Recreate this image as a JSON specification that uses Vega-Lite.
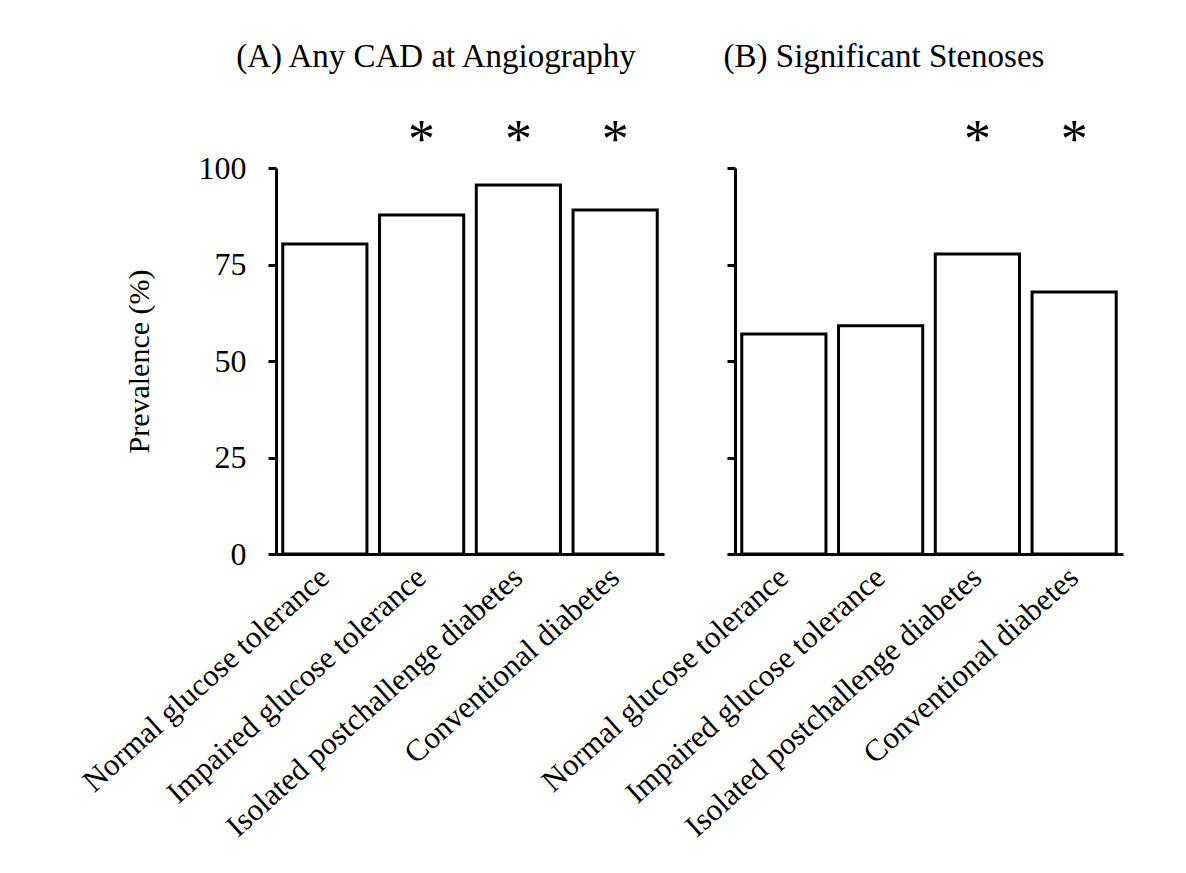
{
  "$schema": "https://vega.github.io/schema/vega-lite/v6.json",
  "background": "white",
  "padding": {"left": 76, "top": 40, "right": 20, "bottom": 20},
  "bounds": "flush",
  "spacing": 71,
  "config": {
    "font": "Liberation Serif",
    "view": {"stroke": null},
    "axis": {
      "domainColor": "black", "domainWidth": 3, "tickColor": "black", "tickWidth": 3, "tickSize": 8,
      "labelFont": "Liberation Serif", "labelFontSize": 31, "labelColor": "black", "labelLimit": 0,
      "titleFont": "Liberation Serif", "titleFontSize": 30, "titleFontWeight": "normal", "titleColor": "black",
      "grid": false
    },
    "title": {"font": "Liberation Serif", "fontSize": 33, "fontWeight": "normal", "color": "black"}
  },
  "datasets": {
    "cad": [
      {"group": "Normal glucose tolerance", "prevalence": 80.3, "marker": ""},
      {"group": "Impaired glucose tolerance", "prevalence": 87.8, "marker": "*"},
      {"group": "Isolated postchallenge diabetes", "prevalence": 95.6, "marker": "*"},
      {"group": "Conventional diabetes", "prevalence": 89.1, "marker": "*"}
    ],
    "sten": [
      {"group": "Normal glucose tolerance", "prevalence": 57.0, "marker": ""},
      {"group": "Impaired glucose tolerance", "prevalence": 59.1, "marker": ""},
      {"group": "Isolated postchallenge diabetes", "prevalence": 77.7, "marker": "*"},
      {"group": "Conventional diabetes", "prevalence": 67.9, "marker": "*"}
    ]
  },
  "hconcat": [
    {
      "width": 388, "height": 386,
      "title": {"text": "(A) Any CAD at Angiography", "dx": -34, "offset": 40},
      "data": {"name": "cad"},
      "encoding": {
        "x": {"field": "group", "type": "nominal", "sort": null,
              "scale": {"paddingInner": 0.13, "paddingOuter": 0.07},
              "axis": {"title": null, "labelAngle": -42, "labelAlign": "right", "labelBaseline": "middle", "ticks": false, "labelPadding": 19}}
      },
      "layer": [
        {"mark": {"type": "bar", "fill": "white", "stroke": "black", "strokeWidth": 3},
         "encoding": {"y": {"field": "prevalence", "type": "quantitative", "scale": {"domain": [0, 100]},
                            "axis": {"values": [0, 25, 50, 75, 100], "title": "Prevalence (%)", "titlePadding": 44, "labelPadding": 22, "labelFontSize": 32}}}},
        {"mark": {"type": "text", "fontSize": 54, "baseline": "middle", "color": "black"},
         "encoding": {"y": {"datum": 107}, "text": {"field": "marker"}}}
      ]
    },
    {
      "width": 388, "height": 386,
      "title": {"text": "(B)  Significant Stenoses", "dx": -45, "offset": 40},
      "data": {"name": "sten"},
      "encoding": {
        "x": {"field": "group", "type": "nominal", "sort": null,
              "scale": {"paddingInner": 0.13, "paddingOuter": 0.07},
              "axis": {"title": null, "labelAngle": -42, "labelAlign": "right", "labelBaseline": "middle", "ticks": false, "labelPadding": 19}}
      },
      "layer": [
        {"mark": {"type": "bar", "fill": "white", "stroke": "black", "strokeWidth": 3},
         "encoding": {"y": {"field": "prevalence", "type": "quantitative", "scale": {"domain": [0, 100]},
                            "axis": {"values": [0, 25, 50, 75, 100], "title": null, "labels": false}}}},
        {"mark": {"type": "text", "fontSize": 54, "baseline": "middle", "color": "black"},
         "encoding": {"y": {"datum": 107}, "text": {"field": "marker"}}}
      ]
    }
  ]
}
